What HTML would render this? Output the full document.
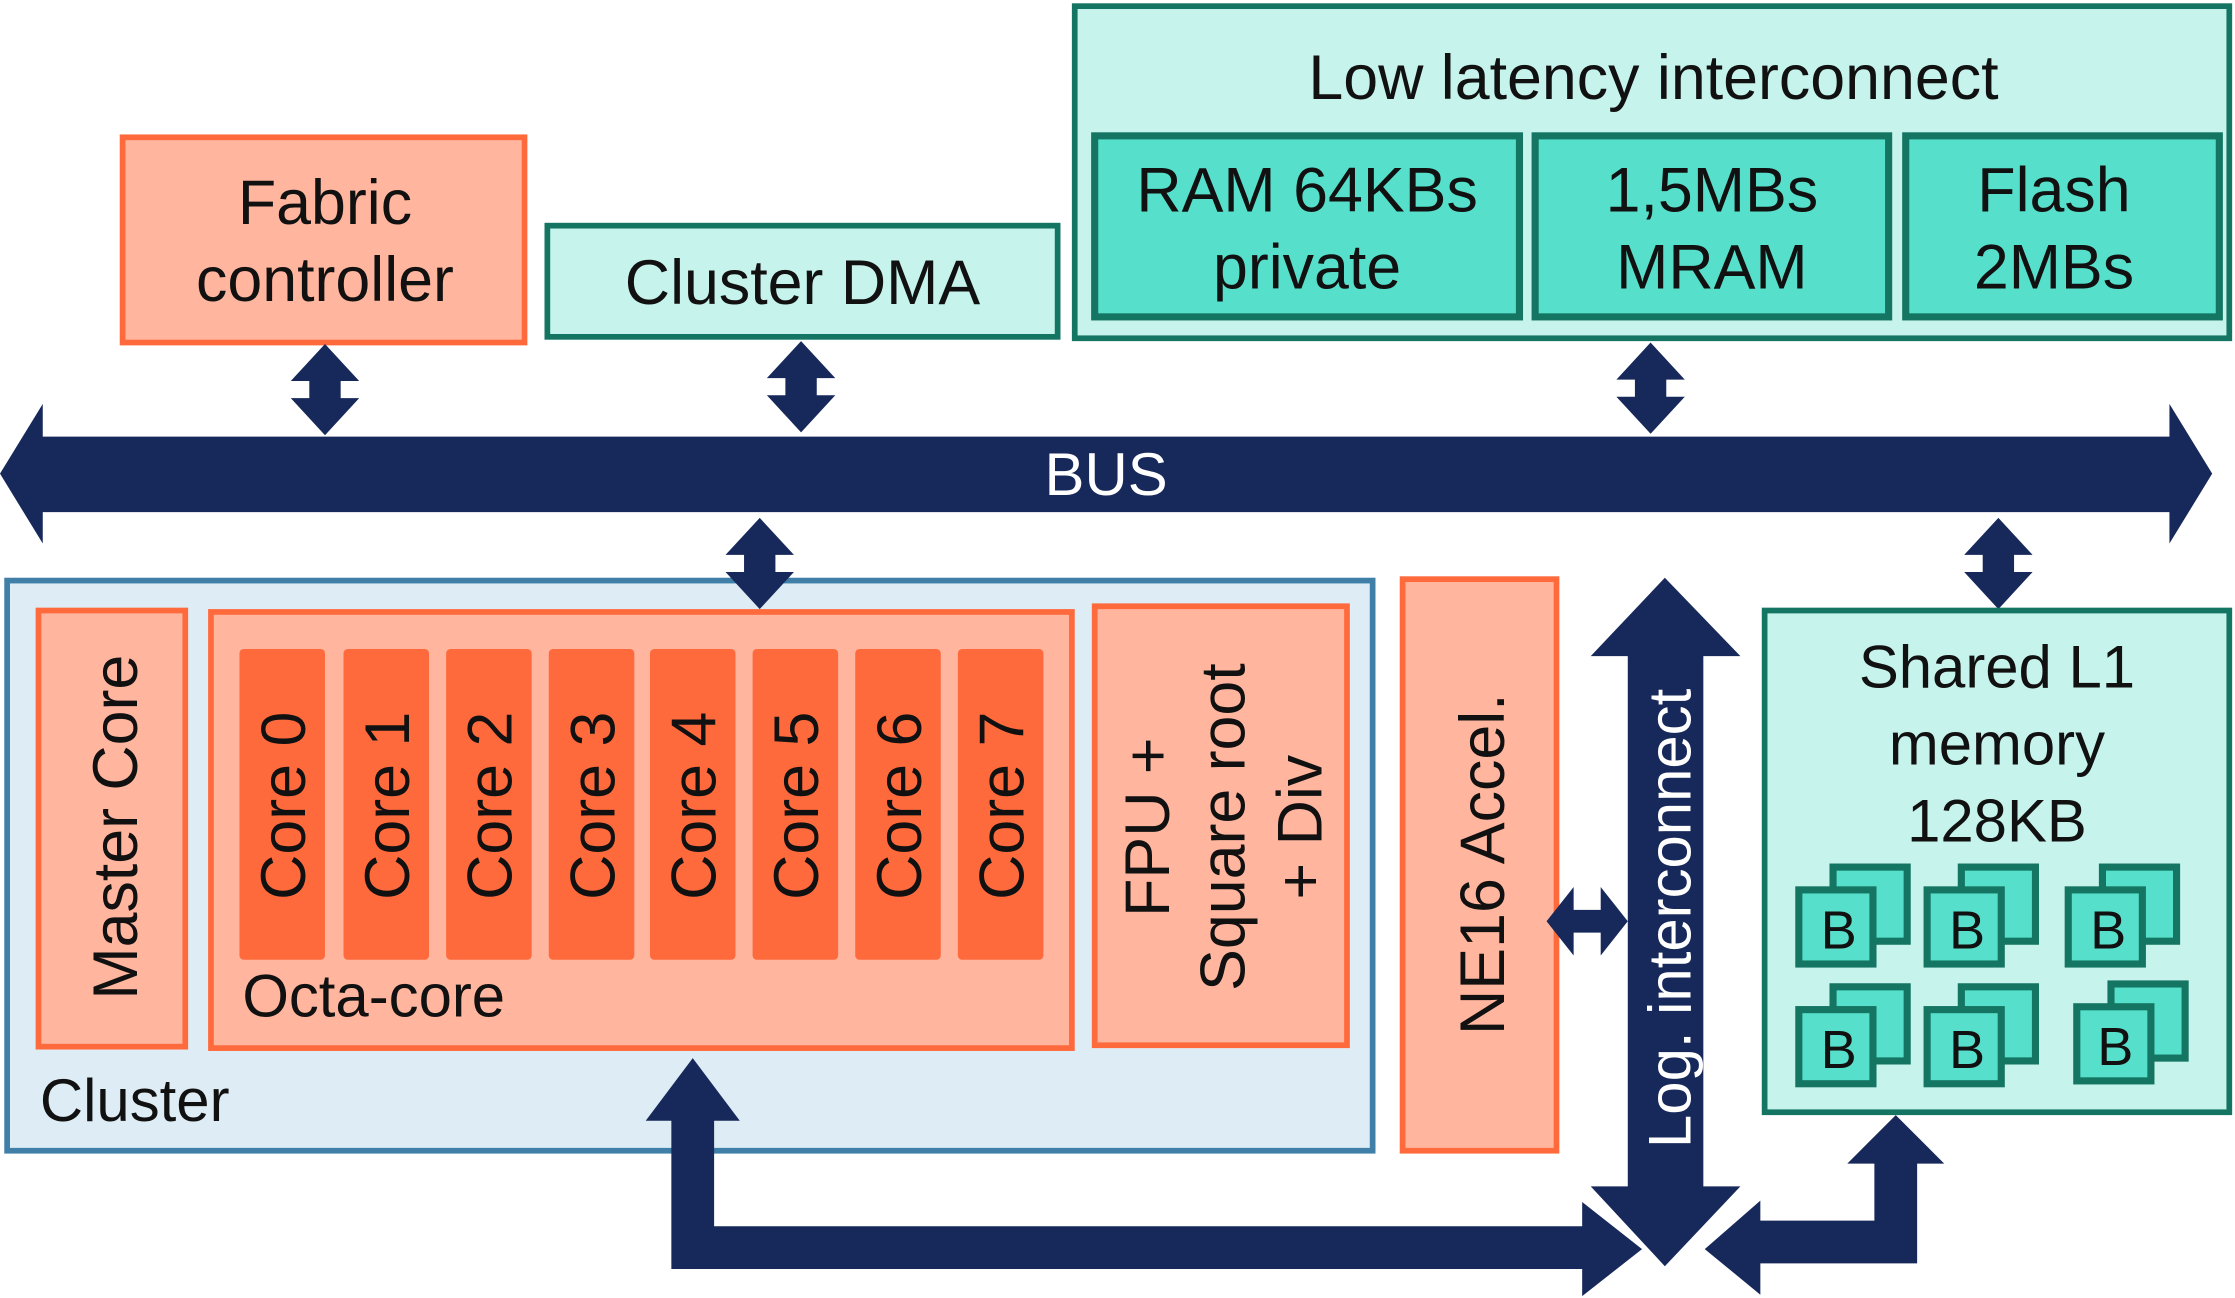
<!DOCTYPE html>
<html><head><meta charset="utf-8"><style>html,body{margin:0;padding:0;background:#fff}svg{display:block}</style></head>
<body>
<svg width="2235" height="1298" viewBox="0 0 1568 910" xmlns="http://www.w3.org/2000/svg" font-family="Liberation Sans, sans-serif">
<defs>
<g id="va"><polygon points="0,-32 24,-6 11,-6 11,6 24,6 0,32 -24,6 -11,6 -11,-6 -24,-6"/></g>
</defs>
<!-- Low latency -->
<rect x="754" y="4" width="810" height="233" fill="#c6f3ec" stroke="#147563" stroke-width="4"/>
<text x="1160" y="69" font-size="44" text-anchor="middle" fill="#111">Low latency interconnect</text>
<g fill="#56e0cc" stroke="#147563" stroke-width="5">
<rect x="768" y="95" width="298" height="127"/><rect x="1077" y="95" width="248" height="127"/><rect x="1337" y="95" width="220" height="127"/></g>
<g font-size="44" text-anchor="middle" fill="#111">
<text x="917" y="148">RAM 64KBs</text><text x="917" y="202">private</text>
<text x="1201" y="148">1,5MBs</text><text x="1201" y="202">MRAM</text>
<text x="1441" y="148">Flash</text><text x="1441" y="202">2MBs</text>
</g>
<!-- Fabric -->
<rect x="86" y="96" width="282" height="144" fill="#ffb59e" stroke="#ff6a3d" stroke-width="4"/>
<text x="228" y="157" font-size="44" text-anchor="middle" fill="#111">Fabric</text>
<text x="228" y="211" font-size="44" text-anchor="middle" fill="#111">controller</text>
<rect x="384" y="158" width="358" height="78" fill="#c6f3ec" stroke="#147563" stroke-width="4"/>
<text x="563" y="213" font-size="44" text-anchor="middle" fill="#111">Cluster DMA</text>
<!-- BUS -->
<polygon points="0,332 30,283 30,306 1522,306 1522,283 1552,332 1522,381 1522,359 30,359 30,381" fill="#17285a"/>
<text x="776" y="347" font-size="42" text-anchor="middle" fill="#fff">BUS</text>
<!-- Cluster -->
<rect x="5" y="407" width="958" height="400" fill="#deedf5" stroke="#3f7fa8" stroke-width="4"/>
<text x="28" y="786" font-size="42" fill="#111">Cluster</text>
<rect x="27" y="428" width="103" height="306" fill="#ffb59e" stroke="#ff6a3d" stroke-width="4"/>
<text transform="translate(96,580) rotate(-90)" font-size="44" text-anchor="middle" fill="#111">Master Core</text>
<rect x="148" y="429" width="604" height="306" fill="#ffb59e" stroke="#ff6a3d" stroke-width="4"/>
<text x="170" y="713" font-size="42" fill="#111">Octa-core</text>
<g fill="#ff6a3d">
<rect x="168" y="455" width="60" height="218" rx="3"/><rect x="241" y="455" width="60" height="218" rx="3"/>
<rect x="313" y="455" width="60" height="218" rx="3"/><rect x="385" y="455" width="60" height="218" rx="3"/>
<rect x="456" y="455" width="60" height="218" rx="3"/><rect x="528" y="455" width="60" height="218" rx="3"/>
<rect x="600" y="455" width="60" height="218" rx="3"/><rect x="672" y="455" width="60" height="218" rx="3"/>
</g>
<g font-size="44" text-anchor="middle" fill="#111">
<text transform="translate(214,565) rotate(-90)">Core 0</text>
<text transform="translate(287,565) rotate(-90)">Core 1</text>
<text transform="translate(359,565) rotate(-90)">Core 2</text>
<text transform="translate(431,565) rotate(-90)">Core 3</text>
<text transform="translate(502,565) rotate(-90)">Core 4</text>
<text transform="translate(574,565) rotate(-90)">Core 5</text>
<text transform="translate(646,565) rotate(-90)">Core 6</text>
<text transform="translate(718,565) rotate(-90)">Core 7</text>
</g>
<rect x="768" y="425" width="177" height="308" fill="#ffb59e" stroke="#ff6a3d" stroke-width="4"/>
<g font-size="44" text-anchor="middle" fill="#111">
<text transform="translate(820,580) rotate(-90)">FPU +</text>
<text transform="translate(873,580) rotate(-90)">Square root</text>
<text transform="translate(927,580) rotate(-90)">+ Div</text>
</g>
<rect x="984" y="406" width="108" height="401" fill="#ffb59e" stroke="#ff6a3d" stroke-width="4"/>
<text transform="translate(1055,606) rotate(-90)" font-size="44" text-anchor="middle" fill="#111">NE16 Accel.</text>
<g fill="#17285a">
<use href="#va" x="228" y="273"/><use href="#va" x="562" y="271"/><use href="#va" x="1158" y="272"/>
<use href="#va" x="533" y="395"/><use href="#va" x="1402" y="395"/>
</g>
<!-- Log interconnect -->
<g fill="#17285a">
<polygon points="1168,405 1221,460 1195,460 1195,832 1221,832 1168,888 1116,832 1142,832 1142,460 1116,460"/>
<polygon points="1085,646 1104,622 1104,638 1123,638 1123,622 1142,646 1123,670 1123,654 1104,654 1104,670"/>
<polygon points="486,742 519,786 501,786 501,860 1110,860 1110,843 1152,876 1110,909 1110,890 471,890 471,786 453,786"/>
<polygon points="1330,782 1364,816 1345,816 1345,886 1235,886 1235,908 1196,876 1235,842 1235,856 1315,856 1315,816 1296,816"/>
</g>
<text transform="translate(1186,644) rotate(-90)" font-size="42" text-anchor="middle" fill="#fff">Log. interconnect</text>
<!-- Shared L1 -->
<rect x="1238" y="428" width="326" height="352" fill="#c6f3ec" stroke="#147563" stroke-width="4"/>
<g font-size="42" text-anchor="middle" fill="#111">
<text x="1401" y="482">Shared L1</text><text x="1401" y="536">memory</text><text x="1401" y="590">128KB</text>
</g>
<g fill="#56e0cc" stroke="#147563" stroke-width="5">
<rect x="1286" y="608" width="52" height="52"/><rect x="1262" y="624" width="52" height="52"/>
<rect x="1376" y="608" width="52" height="52"/><rect x="1352" y="624" width="52" height="52"/>
<rect x="1475" y="608" width="52" height="52"/><rect x="1451" y="624" width="52" height="52"/>
<rect x="1286" y="692" width="52" height="52"/><rect x="1262" y="708" width="52" height="52"/>
<rect x="1376" y="692" width="52" height="52"/><rect x="1352" y="708" width="52" height="52"/>
<rect x="1481" y="690" width="52" height="52"/><rect x="1457" y="706" width="52" height="52"/>
</g>
<g font-size="38" text-anchor="middle" fill="#111">
<text x="1290" y="665">B</text><text x="1380" y="665">B</text><text x="1479" y="665">B</text>
<text x="1290" y="749">B</text><text x="1380" y="749">B</text><text x="1484" y="747">B</text>
</g>
</svg>
</body></html>
